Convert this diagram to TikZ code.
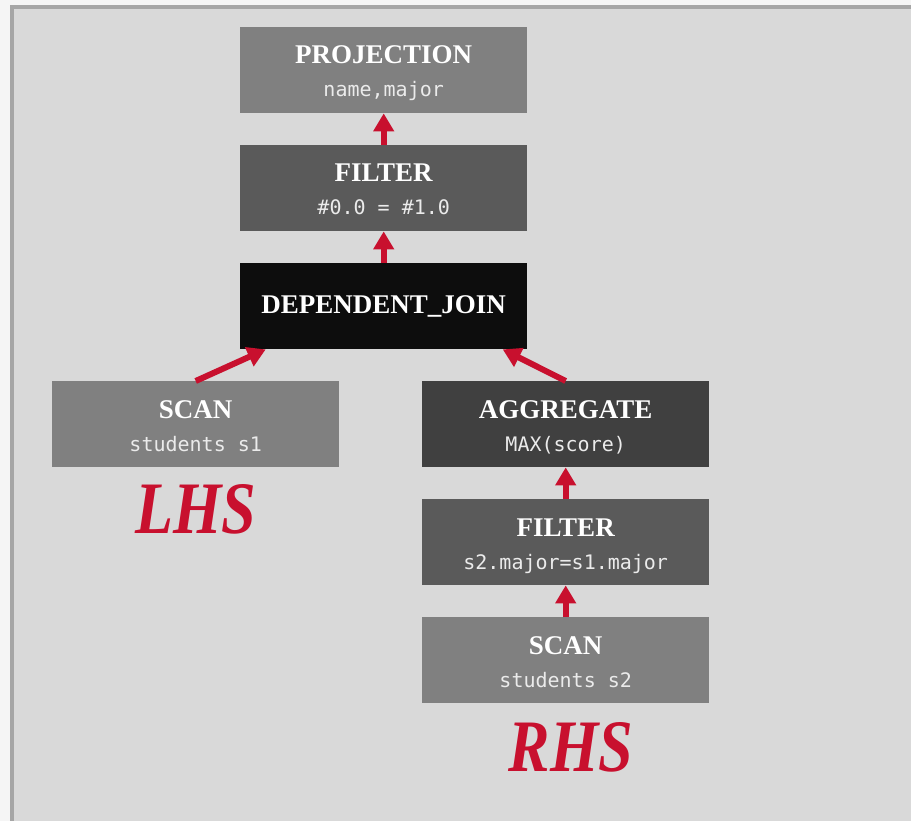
\documentclass[tikz,border=0pt]{standalone}
\usepackage{fontspec}
\usepackage{graphicx}
\setmainfont{Liberation Serif}
\newfontfamily\monofnt{DejaVu Sans Mono}
\usetikzlibrary{arrows.meta,calc}
\definecolor{outerbg}{HTML}{F5F5F5}
\definecolor{panelbg}{HTML}{D9D9D9}
\definecolor{panelborder}{HTML}{A6A6A6}
\definecolor{boxlight}{HTML}{808080}
\definecolor{boxmid}{HTML}{5A5A5A}
\definecolor{boxdark}{HTML}{404040}
\definecolor{boxblack}{HTML}{0D0D0D}
\definecolor{crimson}{HTML}{C8102E}
\tikzset{
  opbox/.style={rectangle, inner sep=0pt, minimum width=287pt, minimum height=86pt, anchor=north west},
  ttl/.style={text=white, font=\fontsize{27}{27}\selectfont\bfseries, anchor=base, inner sep=0pt},
  sub/.style={text=white!92!black, font=\fontsize{20}{20}\selectfont\monofnt, anchor=base, inner sep=0pt},
  side/.style={text=crimson, font=\fontsize{74}{74}\selectfont\bfseries\itshape, anchor=base, inner sep=0pt},
  flow/.style={draw=crimson, line width=6pt, -{Triangle[length=18pt,width=20pt]}},
}
\begin{document}
\begin{tikzpicture}[x=1pt,y=-1pt]
\useasboundingbox (0,0) rectangle (911,821);
\fill[outerbg] (0,0) rectangle (911,821);
\fill[panelbg] (10,5) rectangle (911,821);
\draw[panelborder, line width=4pt] (12,830) -- (12,7) -- (920,7);

\node[opbox, fill=boxlight] (proj) at (240,27) {};
\node[opbox, fill=boxmid] (filt) at (240,145) {};
\node[opbox, fill=boxblack] (dj) at (240,263) {};
\node[opbox, fill=boxlight] (scanl) at (52,381) {};
\node[opbox, fill=boxdark] (agg) at (422,381) {};
\node[opbox, fill=boxmid] (filtr) at (422,499) {};
\node[opbox, fill=boxlight] (scanr) at (422,617) {};

\node[ttl] (projT) at ($(proj.north)+(0,37)$) {PROJECTION};
\node[sub] (projS) at ($(proj.north)+(0,70)$) {name,major};
\node[ttl] (filtT) at ($(filt.north)+(0,37)$) {FILTER};
\node[sub] (filtS) at ($(filt.north)+(0,70)$) {\#0.0 = \#1.0};
\node[ttl] (djT) at ($(dj.north)+(0,50)$) {DEPENDENT\_JOIN};
\node[ttl] (scanlT) at ($(scanl.north)+(0,37)$) {SCAN};
\node[sub] (scanlS) at ($(scanl.north)+(0,70)$) {students s1};
\node[ttl] (aggT) at ($(agg.north)+(0,37)$) {AGGREGATE};
\node[sub] (aggS) at ($(agg.north)+(0,70)$) {MAX(score)};
\node[ttl] (filtrT) at ($(filtr.north)+(0,37)$) {FILTER};
\node[sub] (filtrS) at ($(filtr.north)+(0,70)$) {s2.major=s1.major};
\node[ttl] (scanrT) at ($(scanr.north)+(0,37)$) {SCAN};
\node[sub] (scanrS) at ($(scanr.north)+(0,70)$) {students s2};

\node[side] (lhs) at (196,533) {\scalebox{0.84}[1]{LHS}};
\node[side] (rhs) at (571,771) {\scalebox{0.84}[1]{RHS}};

\coordinate (djl) at ($(dj.south)+(-118,0)$);
\coordinate (djr) at ($(dj.south)+(119,0)$);
\draw[flow] (filt.north) -- (proj.south);
\draw[flow] (dj.north) -- (filt.south);
\draw[flow] (scanl.north) -- (djl);
\draw[flow] (agg.north) -- (djr);
\draw[flow] (filtr.north) -- (agg.south);
\draw[flow] (scanr.north) -- (filtr.south);
\end{tikzpicture}
\end{document}
